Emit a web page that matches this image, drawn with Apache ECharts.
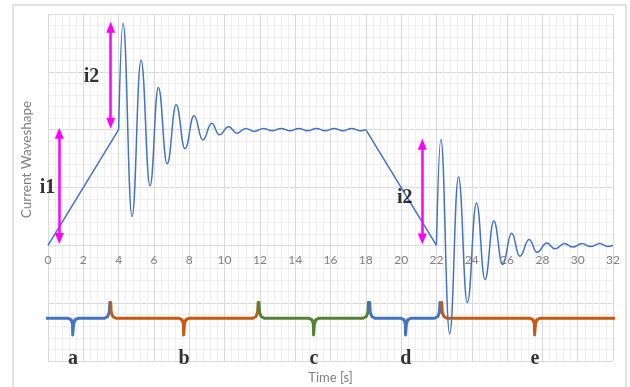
<!DOCTYPE html>
<html>
<head>
<meta charset="utf-8">
<script src="https://cdn.jsdelivr.net/npm/echarts@6.0.0/dist/echarts.min.js"></script>
<style>
html,body{margin:0;padding:0;background:#fff}
#chart{width:630px;height:387px}
</style>
</head>
<body>
<div id="chart"></div>
<script>
// ramps (linear parts)
var rampUp = [[0, 0], [4, 2]];
var rampDown = [[18, 2], [22, 0]];
// first ringing: start, then peaks / troughs
var ring1T = [4, 4.25, 4.76, 5.27, 5.78, 6.25, 6.75, 7.26, 7.76, 8.27, 8.77, 9.27, 9.7, 10.23, 10.7, 11.2, 11.68, 12.2, 12.7, 13.2, 13.7, 14.2, 14.7, 15.2, 15.7, 16.2, 16.7, 17.2, 17.7, 18];
var ring1V = [2, 3.84, 0.5, 3.2, 1.03, 2.73, 1.41, 2.43, 1.67, 2.24, 1.82, 2.11, 1.91, 2.05, 1.94, 2.02, 1.97, 2.02, 1.98, 2.02, 1.98, 2.02, 1.98, 2.02, 1.98, 2.02, 1.98, 2.02, 1.98, 2];
// second ringing after the ramp down
var ring2T = [22, 22.25, 22.75, 23.25, 23.75, 24.27, 24.75, 25.25, 25.75, 26.26, 26.72, 27.25, 27.7, 28.25, 28.72, 29.25, 29.72, 30.25, 30.72, 31.25, 31.72, 32];
var ring2V = [0, 1.83, -1.53, 1.18, -0.99, 0.73, -0.59, 0.42, -0.33, 0.21, -0.19, 0.1, -0.12, 0.04, -0.06, 0.03, -0.03, 0.03, -0.02, 0.03, -0.02, 0];

// segment braces under the axis
var segNames = ['a', 'b', 'c', 'd', 'e'];
var segStart = [-0.68, 3.55, 11.95, 18.22, 22.3];
var segEnd = [3.5, 11.9, 18.15, 22.2, 32.9];
var segMid = [1.42, 7.7, 15.06, 20.27, 27.58];
var segColor = ['#4472C4', '#C55A11', '#548235', '#4472C4', '#C55A11'];

// current step arrows
var stepNames = ['i1', 'i2', 'i2'];
var stepX = [0.64, 3.55, 21.2];
var stepFrom = [0.04, 2.03, 0.03];
var stepTo = [2.02, 3.85, 1.83];
var stepLabelX = [-0.03, 2.46, 20.2];
var stepLabelY = [1.0, 2.92, 0.82];

function zip(t, v) {
	var out = [];
	for (var i = 0; i < t.length; i++) out.push([t[i], v[i]]);
	return out;
}

// brace path in data units
function brace(x0, x1, xm) {
	var top = -0.99, mid = -1.26, tip = -1.55;
	return [
		[x0, top], [x0 + 0.03, mid + 0.1], [x0 + 0.12, mid + 0.03], [x0 + 0.3, mid],
		[xm - 0.3, mid], [xm - 0.1, mid - 0.03], [xm - 0.03, mid - 0.1], [xm - 0.02, tip],
		[xm + 0.02, tip], [xm + 0.03, mid - 0.1], [xm + 0.1, mid - 0.03], [xm + 0.3, mid],
		[x1 - 0.3, mid], [x1 - 0.12, mid + 0.03], [x1 - 0.03, mid + 0.1], [x1, top]
	];
}

var gray = '#7f7f7f';
var blue = '#4472C4';
var series = [];

for (var i = 0; i < segNames.length; i++) {
	series.push({
		type: 'line',
		data: brace(segStart[i], segEnd[i], segMid[i]),
		clip: false,
		symbol: 'none',
		silent: true,
		lineStyle: {color: segColor[i], width: 3, cap: 'round', join: 'round'},
		z: 2
	});
}

series.push({
	type: 'scatter',
	data: segNames.map(function(n, i) { return {name: n, value: [segMid[i], -1.97]}; }),
	symbolSize: 1,
	clip: false,
	itemStyle: {color: 'rgba(0,0,0,0)'},
	label: {
		show: true, position: 'inside', formatter: '{b}',
		color: '#000', fontFamily: 'Liberation Serif', fontWeight: 'bold', fontSize: 20
	},
	silent: true,
	z: 3
});

[rampUp, rampDown].forEach(function(r) {
	series.push({
		type: 'line', data: r, symbol: 'none', silent: true,
		lineStyle: {color: blue, width: 1.5}, z: 4
	});
});
[zip(ring1T, ring1V), zip(ring2T, ring2V)].forEach(function(r) {
	series.push({
		type: 'line', data: r, symbol: 'none', silent: true,
		smooth: 0.45, smoothMonotone: 'x',
		lineStyle: {color: blue, width: 1.5}, z: 4
	});
});

// arrows + their labels
var inset = 0.08;
series.push({
	type: 'scatter',
	data: stepNames.map(function(n, i) { return {name: n, value: [stepLabelX[i], stepLabelY[i]]}; }),
	symbolSize: 1,
	clip: false,
	itemStyle: {color: 'rgba(0,0,0,0)'},
	label: {
		show: true, position: 'inside', formatter: '{b}',
		color: '#000', fontFamily: 'Liberation Serif', fontWeight: 'bold', fontSize: 20
	},
	silent: true,
	z: 5,
	markLine: {
		silent: true,
		symbol: ['triangle', 'triangle'],
		symbolSize: [9, 11],
		label: {show: false},
		lineStyle: {color: '#FF00FF', width: 2.5, type: 'solid'},
		data: stepX.map(function(x, i) {
			return [{coord: [x, stepFrom[i] + inset]}, {coord: [x, stepTo[i] - inset]}];
		})
	}
});

// grid box, the x axis is lifted up to the zero line
var gridTop = 14, gridBottom = 26, yMin = -2, yMax = 4;
var gridH = 387 - gridTop - gridBottom;
var zeroLift = gridH * (0 - yMin) / (yMax - yMin);

var myChart = echarts.init(document.getElementById('chart'));
var option = {
	animation: false,
	backgroundColor: '#fff',
	grid: {left: 48, right: 17, top: gridTop, bottom: gridBottom, containLabel: false, outerBoundsMode: 'none'},
	graphic: [{
		type: 'rect',
		shape: {x: 13, y: 5, width: 613, height: 400},
		style: {fill: 'none', stroke: '#d9d9d9', lineWidth: 1.5},
		silent: true
	}],
	xAxis: {
		type: 'value',
		min: 0, max: 32, interval: 2,
		position: 'bottom',
		offset: -zeroLift,
		name: 'Time [s]',
		nameLocation: 'middle',
		nameGap: 126,
		nameTextStyle: {color: gray, fontFamily: 'Lato', fontSize: 13},
		axisLine: {onZero: false, lineStyle: {color: '#d9d9d9', width: 1}},
		axisTick: {show: false},
		axisLabel: {color: gray, fontFamily: 'Lato', fontSize: 12, margin: 9, showMinLabel: true, showMaxLabel: true},
		splitLine: {show: true, lineStyle: {color: '#d9d9d9'}},
		minorTick: {show: false, splitNumber: 5},
		minorSplitLine: {show: true, lineStyle: {color: '#efefef'}}
	},
	yAxis: {
		type: 'value',
		min: yMin, max: yMax, interval: 1,
		name: 'Current Waveshape',
		nameLocation: 'middle',
		nameGap: 14,
		nameTextStyle: {color: gray, fontFamily: 'Lato', fontSize: 13.5, padding: [0, 0, 0, 56]},
		axisLine: {show: false, onZero: false},
		axisTick: {show: false},
		axisLabel: {show: false},
		splitLine: {show: true, lineStyle: {color: '#d9d9d9'}},
		minorTick: {show: false, splitNumber: 5},
		minorSplitLine: {show: true, lineStyle: {color: '#efefef'}}
	},
	series: series
};
myChart.setOption(option);
</script>
</body>
</html>
